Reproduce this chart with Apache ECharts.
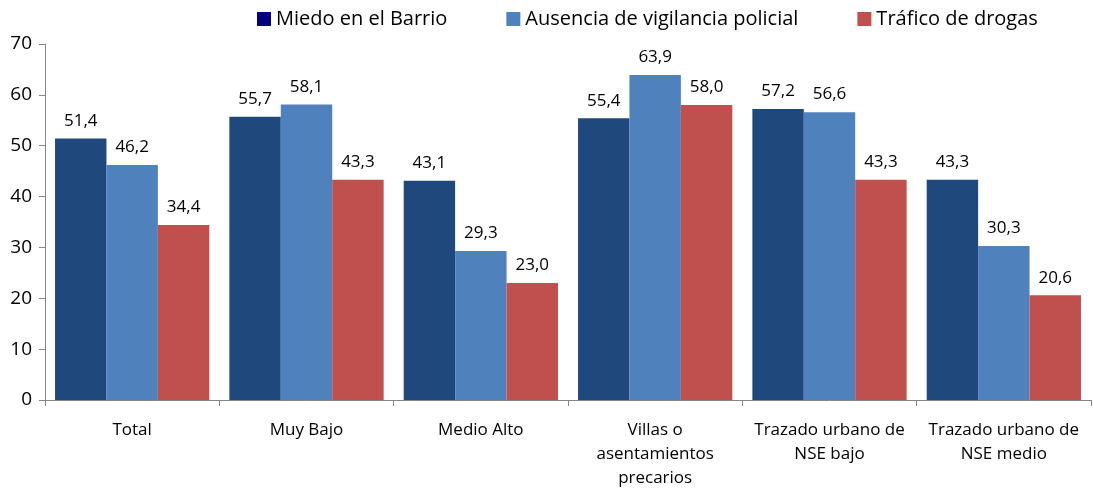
<!DOCTYPE html>
<html><head><meta charset="utf-8">
<script src="https://cdn.jsdelivr.net/npm/echarts@6/dist/echarts.min.js"></script>
<style>html,body{margin:0;padding:0;background:#fff}#c{width:1093px;height:491px}</style>
</head><body><div id="c"></div>
<script>
var categories = ['Total','Muy Bajo','Medio Alto','Villas o\nasentamientos\nprecarios','Trazado urbano de\nNSE bajo','Trazado urbano de\nNSE medio'];
var seriesNames = ['Miedo en el Barrio','Ausencia de vigilancia policial','Tráfico de drogas'];
var miedo = [51.4, 55.7, 43.1, 55.4, 57.2, 43.3];
var vigilancia = [46.2, 58.1, 29.3, 63.9, 56.6, 30.3];
var trafico = [34.4, 43.3, 23.0, 58.0, 43.3, 20.6];
var yTicks = [0,10,20,30,40,50,60,70];

var font = '"Open Sans", sans-serif';
var barColors = ['#1F497D','#4F81BD','#C0504D'];
var legendColors = ['#000080','#4F81BD','#C0504D'];
var datas = [miedo, vigilancia, trafico];

var chart = echarts.init(document.getElementById('c'));
chart.setOption({
  animation: false,
  textStyle: {fontFamily: font},
  legend: {
    top: 4, left: 252,
    itemWidth: 14, itemHeight: 14, itemGap: 59,
    icon: 'rect',
    textStyle: {fontSize: 20, color: '#000', fontFamily: font},
    data: seriesNames.map(function(n,i){return {name:n, itemStyle:{color:legendColors[i]}};})
  },
  grid: {left: 45, right: 2, top: 44, bottom: 91, containLabel: false, outerBoundsMode: 'none'},
  xAxis: {
    type: 'category', data: categories,
    axisLine: {lineStyle: {color: '#868686'}},
    axisTick: {show: true, length: 6, lineStyle: {color: '#868686'}},
    axisLabel: {color: '#000', fontSize: 17, margin: 18, lineHeight: 24, fontFamily: font, interval: 0}
  },
  yAxis: {
    type: 'value', min: yTicks[0], max: yTicks[yTicks.length-1], interval: 10,
    axisLine: {show: true, lineStyle: {color: '#868686'}},
    axisTick: {show: true, length: 6, lineStyle: {color: '#868686'}},
    splitLine: {show: false},
    axisLabel: {color: '#000', fontSize: 19, margin: 13, fontFamily: font}
  },
  series: datas.map(function(d,i){
    return {
      name: seriesNames[i], type: 'bar', data: d,
      barGap: '0%', barCategoryGap: '11.5%',
      itemStyle: {color: barColors[i]},
      label: {show: true, position: 'top', distance: 9, color: '#000', fontSize: 17, fontFamily: font,
        formatter: function(p){return p.value.toFixed(1).replace('.', ',');}}
    };
  })
});
</script></body></html>
